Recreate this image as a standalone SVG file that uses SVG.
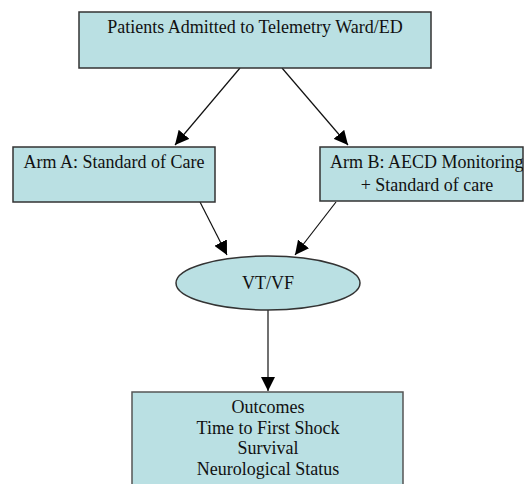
<svg xmlns="http://www.w3.org/2000/svg" width="524" height="484" viewBox="0 0 524 484">
<style>
.box{fill:#BAE0E3;stroke:#333;stroke-width:1.5}
.t{font-family:"Liberation Serif","Times New Roman",serif;font-size:18px;fill:#111}
.c{stroke:#111;stroke-width:1.2;fill:none;marker-end:url(#ah)}
</style>
<defs>
<marker id="ah" viewBox="0 0 10 10" refX="10" refY="5" markerWidth="14" markerHeight="14" markerUnits="userSpaceOnUse" orient="auto">
<path d="M0,0 L10,5 L0,10 z" fill="#000"/>
</marker>
<clipPath id="clipB"><rect x="320" y="147" width="203" height="54"/></clipPath>
</defs>
<rect width="524" height="484" fill="#fff"/>
<g id="connectors">
<line class="c" x1="240" y1="68" x2="175" y2="145"/>
<line class="c" x1="282" y1="68" x2="348" y2="145"/>
<line class="c" x1="200" y1="202" x2="227" y2="255"/>
<line class="c" x1="336" y1="202" x2="295" y2="255"/>
<line class="c" x1="268" y1="310" x2="268" y2="391"/>
</g>
<g id="top">
<rect class="box" x="79" y="12" width="352" height="56"/>
<text class="t" x="255" y="33" text-anchor="middle">Patients Admitted to Telemetry Ward/ED</text>
</g>
<g id="armA">
<rect class="box" x="13" y="147" width="202" height="55"/>
<text class="t" x="114" y="168" text-anchor="middle">Arm A: Standard of Care</text>
</g>
<g id="armB">
<rect class="box" x="320" y="147" width="203" height="54"/>
<g clip-path="url(#clipB)">
<text class="t" x="330" y="168">Arm B: AECD Monitoring</text>
<text class="t" x="427" y="191" text-anchor="middle">+ Standard of care</text>
</g>
</g>
<g id="vtvf">
<ellipse class="box" cx="268" cy="283" rx="92" ry="27"/>
<text class="t" x="268" y="289" text-anchor="middle">VT/VF</text>
</g>
<g id="outcomes">
<rect class="box" x="132" y="392" width="271" height="100" style="stroke:#555"/>
<text class="t" text-anchor="middle" x="268" y="413">Outcomes</text>
<text class="t" text-anchor="middle" x="268" y="434">Time to First Shock</text>
<text class="t" text-anchor="middle" x="268" y="454">Survival</text>
<text class="t" text-anchor="middle" x="268" y="475">Neurological Status</text>
</g>
</svg>
